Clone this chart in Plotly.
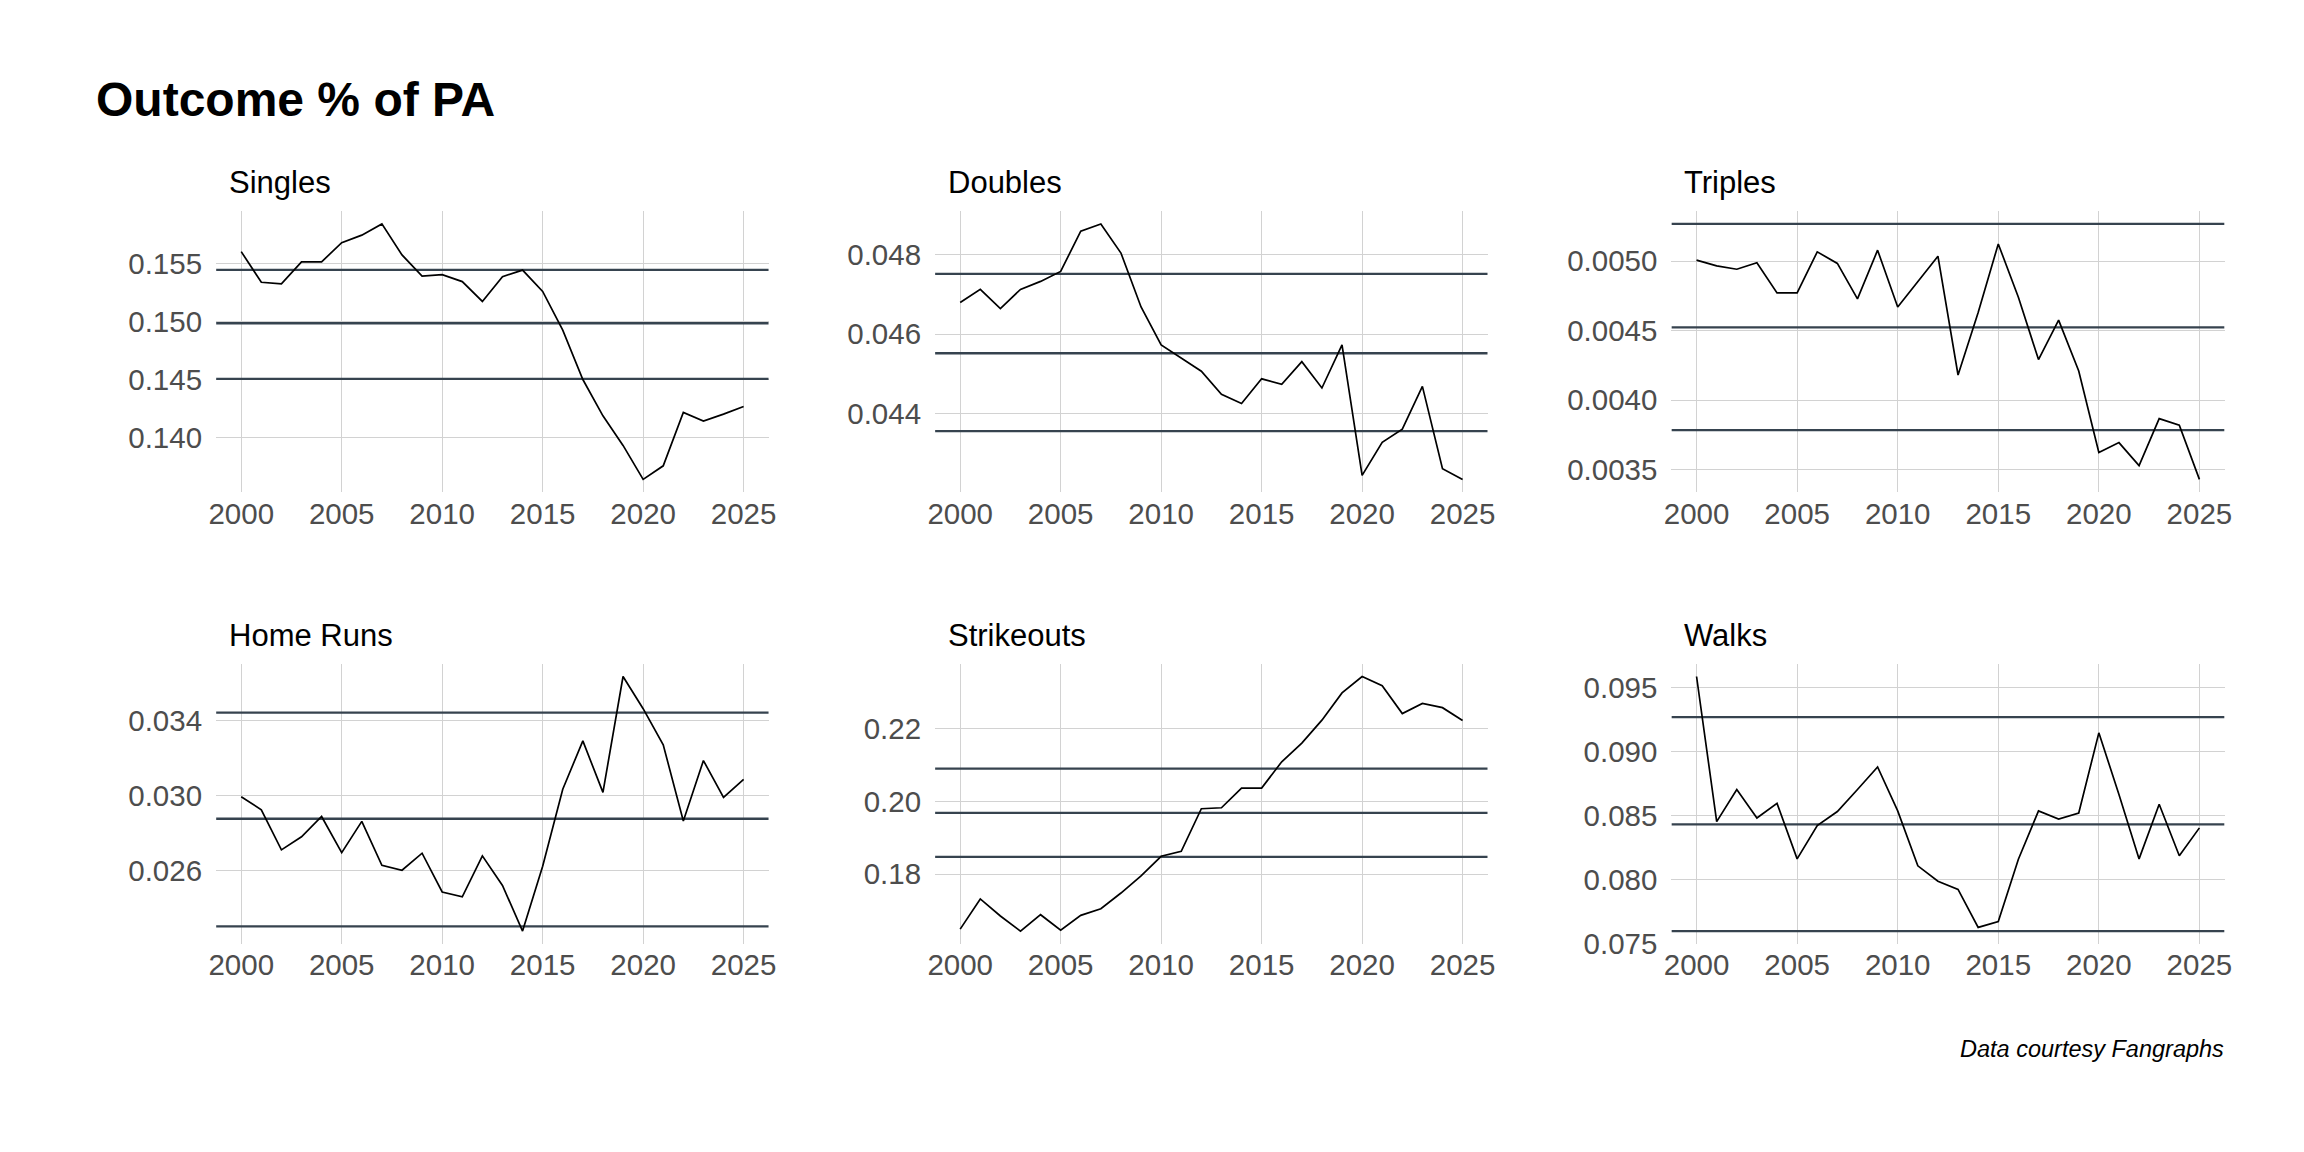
import plotly.graph_objects as go

# ---------------- data ----------------
years = [2000, 2001, 2002, 2003, 2004, 2005, 2006, 2007, 2008, 2009, 2010, 2011, 2012,
         2013, 2014, 2015, 2016, 2017, 2018, 2019, 2020, 2021, 2022, 2023, 2024, 2025]

panel_titles = ["Singles", "Doubles", "Triples", "Home Runs", "Strikeouts", "Walks"]

singles = [0.15602, 0.15338, 0.15324, 0.15514, 0.15514, 0.15679, 0.15744, 0.15841, 0.15574,
           0.15392, 0.15403, 0.15344, 0.15173, 0.15386, 0.15443, 0.15259, 0.14926, 0.14500,
           0.14187, 0.13932, 0.13639, 0.13756, 0.14216, 0.14142, 0.14202, 0.14267]
doubles = [0.04679, 0.04712, 0.04664, 0.04712, 0.04732, 0.04757, 0.04858, 0.04876, 0.04803,
           0.04668, 0.04573, 0.04540, 0.04507, 0.04449, 0.04426, 0.04488, 0.04474, 0.04531,
           0.04465, 0.04573, 0.04246, 0.04329, 0.04362, 0.04469, 0.04263, 0.04236]
triples = [0.005007, 0.004965, 0.004941, 0.004988, 0.004771, 0.004771, 0.005066, 0.004983,
           0.004728, 0.005078, 0.004669, 0.004851, 0.005035, 0.004180, 0.004630, 0.005123,
           0.004740, 0.004291, 0.004575, 0.004209, 0.003623, 0.003694, 0.003528, 0.003866,
           0.003819, 0.003429]
home_runs = [0.02995, 0.02925, 0.02711, 0.02781, 0.02889, 0.02696, 0.02863, 0.02628, 0.02602,
             0.02693, 0.02486, 0.02460, 0.02679, 0.02521, 0.02277, 0.02623, 0.03035, 0.03293,
             0.03018, 0.03637, 0.03465, 0.03272, 0.02865, 0.03188, 0.02991, 0.03088]
strikeouts = [0.16483, 0.17314, 0.16844, 0.16429, 0.16880, 0.16456, 0.16862, 0.17043, 0.17476,
              0.17946, 0.18488, 0.18623, 0.19797, 0.19824, 0.20366, 0.20366, 0.21088, 0.21603,
              0.22235, 0.22984, 0.23436, 0.23183, 0.22415, 0.22695, 0.22578, 0.22226]
walks = [0.09590, 0.08454, 0.08705, 0.08482, 0.08597, 0.08162, 0.08423, 0.08533, 0.08705,
         0.08882, 0.08538, 0.08108, 0.07987, 0.07923, 0.07626, 0.07672, 0.08159, 0.08538,
         0.08474, 0.08521, 0.09149, 0.08667, 0.08162, 0.08590, 0.08187, 0.08405]

# horizontal reference lines per panel
singles_ref = [0.15445, 0.14985, 0.14505]
doubles_ref = [0.04751, 0.04552, 0.04357]
triples_ref = [0.005267, 0.004523, 0.003784]
home_runs_ref = [0.03444, 0.02877, 0.02302]
strikeouts_ref = [0.20898, 0.19680, 0.18470]
walks_ref = [0.09272, 0.08433, 0.07597]

# tick values / labels
x_ticks = [2000, 2005, 2010, 2015, 2020, 2025]
x_tick_text = ["2000", "2005", "2010", "2015", "2020", "2025"]
singles_ticks = [0.140, 0.145, 0.150, 0.155]
singles_tick_text = ["0.140", "0.145", "0.150", "0.155"]
doubles_ticks = [0.044, 0.046, 0.048]
doubles_tick_text = ["0.044", "0.046", "0.048"]
triples_ticks = [0.0035, 0.0040, 0.0045, 0.0050]
triples_tick_text = ["0.0035", "0.0040", "0.0045", "0.0050"]
home_runs_ticks = [0.026, 0.030, 0.034]
home_runs_tick_text = ["0.026", "0.030", "0.034"]
strikeouts_ticks = [0.18, 0.20, 0.22]
strikeouts_tick_text = ["0.18", "0.20", "0.22"]
walks_ticks = [0.075, 0.080, 0.085, 0.090, 0.095]
walks_tick_text = ["0.075", "0.080", "0.085", "0.090", "0.095"]

series = [singles, doubles, triples, home_runs, strikeouts, walks]
refs = [singles_ref, doubles_ref, triples_ref, home_runs_ref, strikeouts_ref, walks_ref]
yticks = [singles_ticks, doubles_ticks, triples_ticks, home_runs_ticks, strikeouts_ticks, walks_ticks]
yticktext = [singles_tick_text, doubles_tick_text, triples_tick_text, home_runs_tick_text,
             strikeouts_tick_text, walks_tick_text]

# ---------------- layout geometry (pixels) ----------------
W, H = 2304, 1152
col_px = [(201.5, 758), (925.5, 1482), (1667, 2224)]
row_px = [(206, 491), (665, 949)]
title_y_px = [177, 636]


def fx(s):
    return s / W


def fy(s):
    return 1 - s / H


FONT = "Liberation Sans, Arial, Helvetica, sans-serif"
GRID = "#D2D2D2"
TICK_COLOR = "#4D4D4D"
REF_COLOR = "#36434F"

fig = go.Figure()
layout = dict(
    width=W, height=H,
    margin=dict(l=0, r=0, t=0, b=0),
    paper_bgcolor="white", plot_bgcolor="white",
    showlegend=False,
    font=dict(family=FONT, color=TICK_COLOR),
)
annotations = []

xmin, xmax = min(years), max(years)
xpad = (xmax - xmin) * 0.05
xr = [xmin - xpad, xmax + xpad]

for i in range(6):
    r, c = divmod(i, 3)
    n = "" if i == 0 else str(i + 1)
    x0p, x1p = col_px[c]
    y0p, y1p = row_px[r]
    vals = series[i] + refs[i]
    lo, hi = min(vals), max(vals)
    pad = (hi - lo) * 0.05

    # reference lines spanning the whole panel
    for v in refs[i]:
        fig.add_trace(go.Scatter(
            x=xr, y=[v, v], mode="lines",
            line=dict(color=REF_COLOR, width=2.3),
            xaxis="x" + n, yaxis="y" + n, hoverinfo="skip",
        ))

    fig.add_trace(go.Scatter(
        x=years, y=series[i], mode="lines",
        line=dict(color="black", width=1.7),
        xaxis="x" + n, yaxis="y" + n, hoverinfo="x+y",
    ))

    layout["xaxis" + n] = dict(
        domain=[fx(x0p), fx(x1p)], anchor="y" + n,
        range=xr,
        tickvals=x_ticks, ticktext=x_tick_text,
        showgrid=True, gridcolor=GRID, gridwidth=1.3,
        zeroline=False, showline=False, ticks="",
        ticklabelstandoff=1,
        tickfont=dict(family=FONT, size=29.5, color=TICK_COLOR),
    )
    layout["yaxis" + n] = dict(
        domain=[fy(y1p), fy(y0p)], anchor="x" + n,
        range=[lo - pad, hi + pad],
        tickvals=yticks[i], ticktext=yticktext[i],
        showgrid=True, gridcolor=GRID, gridwidth=1.3,
        zeroline=False, showline=False, ticks="",
        ticklabelstandoff=13,
        tickfont=dict(family=FONT, size=29.5, color=TICK_COLOR),
    )

    annotations.append(dict(
        text=panel_titles[i], xref="paper", yref="paper",
        x=fx(x0p + 11), y=fy(title_y_px[r]),
        xanchor="left", yanchor="middle", showarrow=False,
        font=dict(family=FONT, size=31, color="black"),
    ))

annotations.append(dict(
    text="<b>Outcome % of PA</b>", xref="paper", yref="paper",
    x=fx(79), y=fy(93), xanchor="left", yanchor="middle", showarrow=False,
    font=dict(family=FONT, size=48, color="black"),
))
annotations.append(dict(
    text="<i>Data courtesy Fangraphs</i>", xref="paper", yref="paper",
    x=fx(2225), y=fy(1056), xanchor="right", yanchor="middle", showarrow=False,
    font=dict(family=FONT, size=23.5, color="black"),
))

layout["annotations"] = annotations
fig.update_layout(**layout)
fig.write_html("out.html")
